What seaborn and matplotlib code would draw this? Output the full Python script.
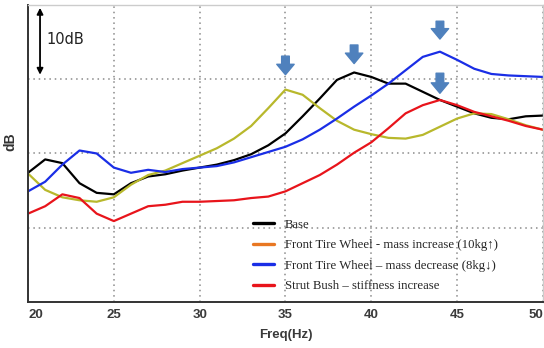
import numpy as np
import pandas as pd
import matplotlib
matplotlib.use("Agg")
import matplotlib.pyplot as plt
from matplotlib.lines import Line2D
import seaborn as sns

freq = list(range(20, 51))

base = [17.4, 19.2, 18.7, 16.0, 14.7, 14.5, 16.0, 16.9, 17.2, 17.7, 18.1,
        18.5, 19.1, 19.9, 21.1, 22.7, 25.0, 27.4, 29.9, 30.9, 30.3,
        29.4, 29.4, 28.3, 27.2, 26.3, 25.4, 24.8, 24.6, 25.0, 25.1]
mass_inc = [17.3, 15.1, 14.1, 13.7, 13.5, 14.1, 15.8, 17.1, 17.7, 18.7, 19.7,
            20.7, 22.0, 23.7, 26.1, 28.6, 27.9, 26.1, 24.4, 23.2, 22.6,
            22.1, 22.0, 22.5, 23.6, 24.7, 25.4, 25.3, 24.6, 23.8, 23.2]
mass_dec = [14.9, 16.2, 18.5, 20.4, 20.0, 18.1, 17.4, 17.8, 17.5, 17.9, 18.1,
            18.3, 18.8, 19.5, 20.2, 20.9, 21.9, 23.2, 24.7, 26.3, 27.8,
            29.4, 31.2, 33.0, 33.7, 32.6, 31.4, 30.7, 30.5, 30.4, 30.3]
strut = [11.9, 12.9, 14.5, 14.0, 11.9, 10.9, 11.9, 12.9, 13.1, 13.5, 13.5,
         13.6, 13.7, 14.0, 14.2, 14.9, 16.0, 17.1, 18.5, 20.1, 21.5,
         23.4, 25.4, 26.5, 27.2, 26.5, 25.6, 25.0, 24.4, 23.7, 23.2]

series_names = ["Base",
                "Front Tire Wheel - mass increase (10kg\u2191)",
                "Front Tire Wheel \u2013 mass decrease (8kg\u2193)",
                "Strut Bush \u2013 stiffness increase"]
line_colors = ["#000000", "#b8b82c", "#1a2ee6", "#e8141b"]
legend_colors = ["#000000", "#e87722", "#1a2ee6", "#e8141b"]
x_ticks = [20, 25, 30, 35, 40, 45, 50]
peak_arrows = [(35, 33.1, 30.6), (39, 34.6, 32.1), (44, 37.8, 35.4), (44, 30.8, 28.1)]

df = pd.concat([
    pd.DataFrame({"Freq": freq, "dB": vals, "series": name})
    for name, vals in zip(series_names, [base, mass_inc, mass_dec, strut])
])

sns.set_style("white")
fig = plt.figure(figsize=(5.44, 3.48), dpi=100)
ax = fig.add_axes([0.0515, 0.132, 0.9465, 0.854])

sns.lineplot(data=df, x="Freq", y="dB", hue="series", hue_order=series_names,
             palette=dict(zip(series_names, line_colors)), linewidth=1.6,
             ax=ax, legend=False)

sans = ["Liberation Sans", "DejaVu Sans"]
ax.set_xlim(20, 50)
ax.set_ylim(0, 40)
ax.set_xticks(x_ticks)
ax.set_xticklabels([str(t) for t in x_ticks], fontsize=9.5, color="#3a3a3a",
                   family=sans, fontweight="bold")
labels = ax.get_xticklabels()
labels[0].set_ha("left")
labels[-1].set_ha("right")
ax.set_yticks([10, 20, 30])
ax.set_yticklabels([])
ax.tick_params(axis="both", length=0, pad=5)
ax.grid(True, linestyle=(0, (1, 2.5)), color="#8a8a8a", linewidth=1.1)
ax.set_xlabel("Freq(Hz)", fontsize=9.5, color="#3a3a3a", family=sans,
              fontweight="bold", labelpad=6)
ax.set_ylabel("dB", fontsize=10, fontweight="bold", color="#333333", family=sans)
ax.yaxis.set_label_coords(-0.02, 0.54)

for side in ["left", "bottom"]:
    ax.spines[side].set_color("#333333")
    ax.spines[side].set_linewidth(1.4)
for side in ["top", "right"]:
    ax.spines[side].set_color("#cccccc")
    ax.spines[side].set_linewidth(1.0)

# 10 dB scale arrow
ax.annotate("", xy=(20.7, 39.6), xytext=(20.7, 30.6),
            arrowprops=dict(arrowstyle="<|-|>", color="black", lw=1.3,
                            mutation_scale=9, shrinkA=0, shrinkB=0))
ax.text(21.1, 35.3, "10dB", fontsize=10.5, va="center", ha="left", color="#222222")

for fx, ytail, ytip in peak_arrows:
    ax.annotate("", xy=(fx, ytip), xytext=(fx, ytail),
                arrowprops=dict(arrowstyle="simple,head_width=1.25,head_length=0.75,tail_width=0.55",
                                color="#4f81bd", mutation_scale=10, shrinkA=0, shrinkB=0))

handles = [Line2D([0], [0], color=c, lw=2.4) for c in legend_colors]
leg = ax.legend(handles, series_names, loc="lower left", bbox_to_anchor=(0.415, -0.005),
                frameon=False, handlelength=1.6, handletextpad=0.9, labelspacing=0.66,
                prop={"family": ["Liberation Serif", "DejaVu Serif"], "size": 9.2})

fig.savefig("out.png", dpi=100)
